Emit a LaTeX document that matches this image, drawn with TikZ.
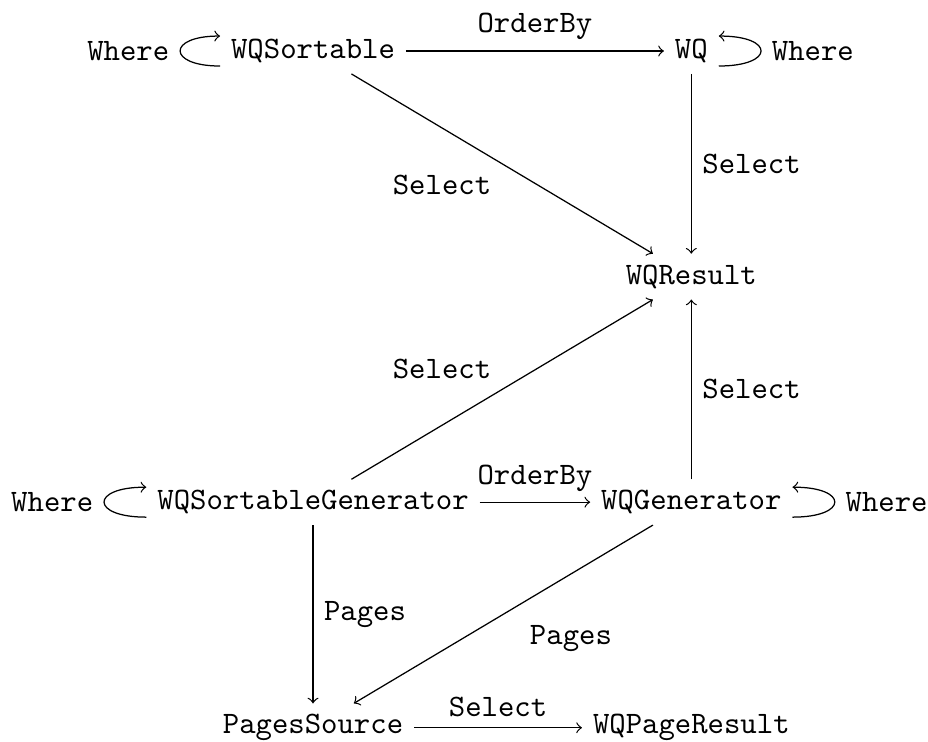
\documentclass[tikz,border=0pt]{standalone}
\usepackage{tikz}

\begin{document}
\begin{tikzpicture}[x=4.26cm,y=2.54cm,>=to,every node/.style={font=\ttfamily}]
    \useasboundingbox (-3.525cm,-0.16cm) rectangle (6.925cm,8.195cm);

    \node (sortable) at (0, 3) {WQSortable};
    \node (wq) at (1, 3) {WQ};
    \node (result) at (1, 2) {WQResult};
    \node (sortgen) at (0, 1) {WQSortableGenerator};
    \node (gen) at (1, 1) {WQGenerator};
    \node (pages) at (0, 0) {PagesSource};
    \node (pageresult) at (1, 0) {WQPageResult};

    % Where loops
    \draw[->] ([yshift=-4.8pt]sortable.west) .. controls +(-17pt,0) and +(-17pt,0) .. node[left] (where_sortable) {Where} ([yshift=4.8pt]sortable.west);
    \draw[->] ([yshift=-4.8pt]wq.east) .. controls +(18pt,0) and +(18pt,0) .. node[right] (where_wq) {Where} ([yshift=4.8pt]wq.east);
    \draw[->] ([yshift=-4.8pt]sortgen.west) .. controls +(-18pt,0) and +(-18pt,0) .. node[left] (where_sortgen) {Where} ([yshift=4.8pt]sortgen.west);
    \draw[->] ([yshift=-4.8pt]gen.east) .. controls +(18pt,0) and +(18pt,0) .. node[right] (where_gen) {Where} ([yshift=4.8pt]gen.east);

    \draw[->] (sortable) -- node[above] (orderby_top) {OrderBy} (wq);
    \draw[->] (sortable) -- node[below left] (select_sortable) {Select} (result);
    \draw[->] (wq) -- node[right] (select_wq) {Select} (result);
    \draw[->] (sortgen) -- node[above left] (select_sortgen) {Select} (result);
    \draw[->] (gen) -- node[right] (select_gen) {Select} (result);
    \draw[->] (sortgen) -- node[above] (orderby_gen) {OrderBy} (gen);
    \draw[->] (sortgen) -- node[right] (pages_sortgen) {Pages} (pages);
    \draw[->] (gen) -- node[below right,xshift=5pt] (pages_gen) {Pages} (pages);
    \draw[->] (pages) -- node[above] (select_pages) {Select} (pageresult);

  \end{tikzpicture}
\end{document}
